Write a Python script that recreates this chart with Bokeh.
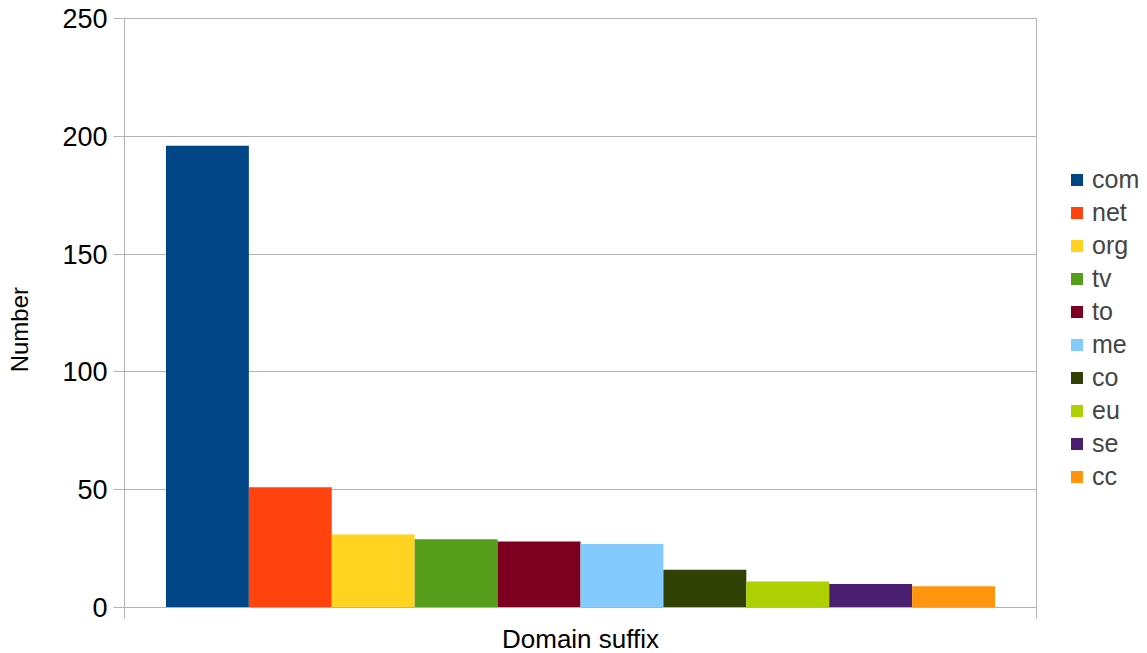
from bokeh.plotting import figure
from bokeh.models import ColumnDataSource, Legend, LegendItem, FixedTicker, Range1d
from bokeh.embed import file_html
from bokeh.resources import INLINE

suffixes = ["com", "net", "org", "tv", "to", "me", "co", "eu", "se", "cc"]
counts = [196, 51, 31, 29, 28, 27, 16, 11, 10, 9]
colors = ["#004586", "#ff420e", "#ffd320", "#579d1c", "#7e0021",
          "#83caff", "#314004", "#aecf00", "#4b1f6f", "#ff950e"]
y_ticks = [0, 50, 100, 150, 200, 250]

FONT = "Liberation Sans"
GREY = "#b3b3b3"

src = ColumnDataSource(dict(x=list(range(len(suffixes))), top=counts,
                            color=colors, name=suffixes))

p = figure(frame_width=912, frame_height=589, output_backend="svg", toolbar_location=None,
           x_range=Range1d(-1, len(suffixes)), y_range=Range1d(0, 250),
           min_border_left=124, min_border_top=18, min_border_right=108,
           min_border_bottom=45)

r = p.vbar(x="x", top="top", width=1.0, color="color", source=src, line_color=None)

p.xgrid.visible = False
p.ygrid.grid_line_color = GREY
p.ygrid.ticker = FixedTicker(ticks=y_ticks)
p.outline_line_color = GREY
p.background_fill_color = "white"
p.border_fill_color = "white"

ya = p.yaxis[0]
ya.ticker = FixedTicker(ticks=y_ticks)
ya.axis_line_color = GREY
ya.major_tick_line_color = GREY
ya.major_tick_out = 11
ya.major_tick_in = 0
ya.minor_tick_line_color = None
ya.major_label_text_font = FONT
ya.major_label_text_font_size = "27px"
ya.major_label_text_color = "black"
ya.major_label_standoff = 6
ya.axis_label = "Number" + "\u00a0" * 5
ya.axis_label_text_font = FONT
ya.axis_label_text_font_size = "24px"
ya.axis_label_text_font_style = "normal"
ya.axis_label_text_color = "black"
ya.axis_label_standoff = 26

xa = p.xaxis[0]
xa.ticker = FixedTicker(ticks=[-1, len(suffixes)])
xa.major_label_overrides = {-1: "", len(suffixes): ""}
xa.major_label_text_font_size = "0px"
xa.major_label_standoff = 0
xa.axis_line_color = GREY
xa.major_tick_line_color = GREY
xa.major_tick_out = 11
xa.major_tick_in = 0
xa.minor_tick_line_color = None
xa.axis_label = "Domain suffix"
xa.axis_label_text_font = FONT
xa.axis_label_text_font_size = "26px"
xa.axis_label_text_font_style = "normal"
xa.axis_label_text_color = "black"
xa.axis_label_standoff = 5

items = [LegendItem(label=s, renderers=[r], index=i) for i, s in enumerate(suffixes)]
legend = Legend(items=items, location=(33, 116), orientation="vertical",
                glyph_width=15, glyph_height=15, label_standoff=8,
                label_text_font=FONT, label_text_font_size="25px",
                label_height=29, spacing=4, padding=0, margin=0,
                border_line_color=None, background_fill_alpha=0)
p.add_layout(legend, "right")

open("out.html", "w").write(file_html(p, INLINE))
